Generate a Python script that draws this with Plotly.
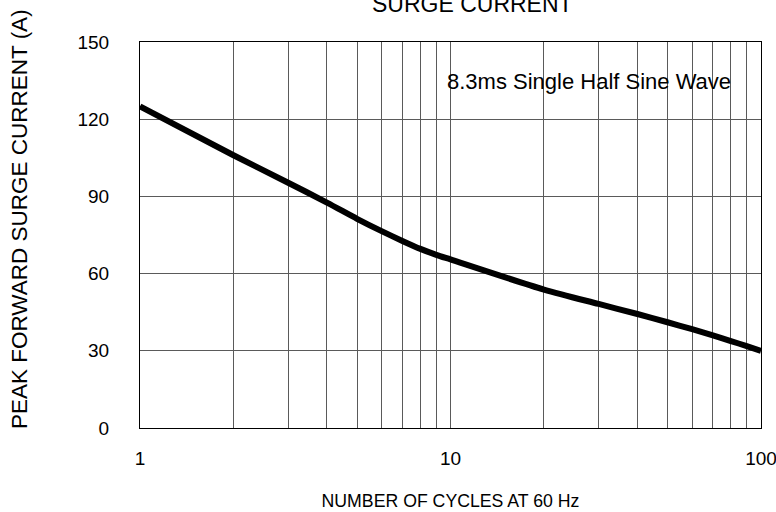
import plotly.graph_objects as go

cycles = [1, 2, 3, 4, 5, 6, 7, 8, 9, 10, 20, 30, 40, 50, 60, 70, 80, 90, 100]
current = [125, 106, 95.3, 87.6, 81.3, 76.5, 72.7, 69.6, 67.3, 65.5,
           53.8, 48.2, 44.3, 41.1, 38.4, 36.0, 33.8, 31.8, 30]
x_major = [1, 10, 100]
x_minor = [2, 3, 4, 5, 6, 7, 8, 9, 20, 30, 40, 50, 60, 70, 80, 90]
y_ticks = [0, 30, 60, 90, 120, 150]

FONT = "Liberation Sans, Arial, sans-serif"
GRID = "#5a5a5a"

# plot-area geometry in pixels (used only for placing texts)
L, T, W, H = 140, 42, 621, 386

def px_x(x):
    return (x - L) / W

def px_y(y):
    return (T + H - y) / H

fig = go.Figure()
fig.add_trace(go.Scatter(x=cycles, y=current, mode="lines",
                         line=dict(color="black", width=6, shape="spline", smoothing=0.8),
                         showlegend=False, hoverinfo="skip"))

fig.update_layout(
    width=776, height=512,
    margin=dict(l=L, r=776 - L - W, t=T, b=512 - T - H, autoexpand=False),
    paper_bgcolor="white", plot_bgcolor="white",
    font=dict(family=FONT, size=19, color="black"),
    xaxis=dict(type="log", range=[0, 2], tickvals=x_major, ticktext=[str(v) for v in x_major],
               showgrid=True, gridcolor=GRID, gridwidth=1,
               minor=dict(tickvals=x_minor, showgrid=True, gridcolor=GRID, gridwidth=1),
               showline=True, linecolor="black", linewidth=1, mirror=True,
               ticks="", ticklabelstandoff=13, ticklabeloverflow="allow",
               zeroline=False, automargin=False,
               title=dict(text="NUMBER OF CYCLES AT 60 Hz", standoff=26, font=dict(size=17.7))),
    yaxis=dict(range=[0, 150], tickvals=y_ticks, showgrid=True, gridcolor=GRID, gridwidth=1,
               showline=True, linecolor="black", linewidth=1, mirror=True,
               ticks="", ticklabelstandoff=26, zeroline=False, automargin=False),
)

# y-axis title
fig.add_annotation(text="PEAK FORWARD SURGE CURRENT (A)", xref="paper", yref="paper",
                   x=px_x(19), y=px_y(219), textangle=-90, showarrow=False,
                   xanchor="center", yanchor="middle", font=dict(size=22.5))

# white label box
fig.add_shape(type="rect", xref="paper", yref="paper",
              x0=px_x(428), x1=px_x(759), y0=px_y(109), y1=px_y(53),
              fillcolor="white", line=dict(width=0), layer="between")
fig.add_annotation(text="8.3ms Single Half Sine Wave", xref="paper", yref="paper",
                   x=px_x(589), y=px_y(81), showarrow=False,
                   xanchor="center", yanchor="middle", font=dict(size=22))

fig.add_annotation(text="SURGE CURRENT", xref="paper", yref="paper",
                   x=px_x(472), y=px_y(4), yanchor="middle", xanchor="center",
                   showarrow=False, font=dict(size=23))

fig.write_html("out.html", config={"displayModeBar": False},
               post_script="document.body.style.margin='0';document.body.style.overflow='hidden';")
